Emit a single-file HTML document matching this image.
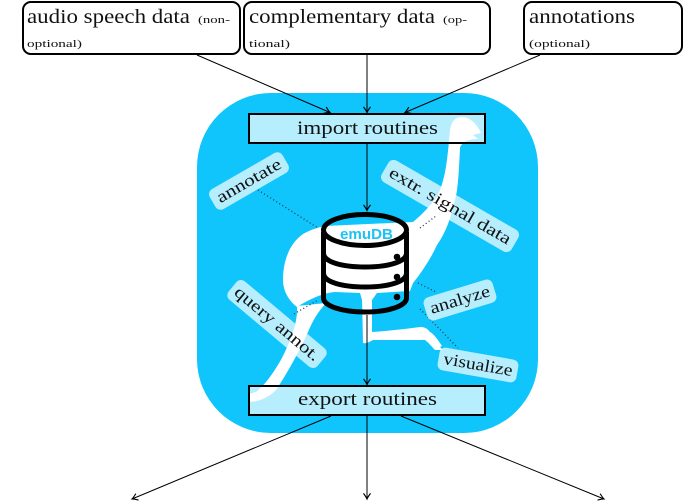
<!DOCTYPE html>
<html>
<head>
<meta charset="utf-8">
<style>
  html, body { margin: 0; padding: 0; background: #ffffff; }
  svg { display: block; }
  text { font-family: "Liberation Serif", "DejaVu Serif", serif; fill: #111; }
</style>
</head>
<body>
<svg width="684" height="501" viewBox="0 0 684 501" xmlns="http://www.w3.org/2000/svg">
  <defs>
    <marker id="ah" markerWidth="10" markerHeight="10" refX="0" refY="0" viewBox="-6 -4 8 8" orient="auto" markerUnits="userSpaceOnUse">
      <path d="M-4.5,-2.8 Q-1.5,-0.6 0,0 Q-1.5,0.6 -4.5,2.8" fill="none" stroke="#000" stroke-width="0.9"/>
    </marker>
  </defs>

  <rect width="684" height="501" fill="#ffffff"/>

  <!-- blue rounded background -->
  <rect x="197" y="93" width="341" height="340" rx="74" ry="74" fill="#0fc5fc"/>

  <!-- emu silhouette -->
  <g fill="#ffffff">
    <!-- head, neck and body -->
    <path d="M462,117 C470,117 477,124 481,133 L473,135 L478,139 C470,139 462,141 460,148
             C459,170 458,190 455,200 C451,218 446,232 437,245 C431,258 422,272 413,283
             L410,291 L377,293 L372,300 L362,300 L360,293 L335,292
             C322,293 308,300 297,307 C288,300 283,290 283,280 C283,260 290,243 303,234
             C312,229 320,227 325,226 L413,222
             C425,212 436,200 440,190 C447,172 448,150 450,130 C451,122 455,117 462,117 Z"/>
    <!-- left leg -->
    <path d="M297,306 C298,322 291,340 282,358 C274,372 266,384 256,392 L249,394 L248,402
             C258,402 268,398 276,390 C288,372 300,350 308,332 C313,320 318,312 326,303 Z"/>
    <!-- right leg -->
    <path d="M362,298 L363,343 C367,344 371,341 373,340 C390,340 410,340 425,340
             C429,343 432,347 435,350 L443,350 L440,347 L442,346
             C438,340 434,334 430,332 C427,328 424,327 420,327
             C405,329 388,331 372,332 L372,298 Z"/>
  </g>

  <!-- dotted connectors -->
  <g stroke="#1a3a4a" stroke-width="1.3" stroke-dasharray="1 2.6" fill="none">
    <line x1="258" y1="190" x2="318" y2="228"/>
    <line x1="420" y1="228" x2="436" y2="216"/>
    <line x1="294" y1="314" x2="318" y2="300"/>
    <line x1="418" y1="283" x2="436" y2="292"/>
    <line x1="420" y1="309" x2="458" y2="348"/>
  </g>

  <!-- database icon -->
  <g fill="none" stroke="#000" stroke-width="5" stroke-linejoin="round">
    <ellipse cx="365" cy="230" rx="41.5" ry="15.5"/>
    <path d="M323.5,232 L323.5,298 C323.5,306 342,312 365,312 C388,312 406.5,306 406.5,298 L406.5,232"/>
    <path d="M323.5,253 C323.5,262 342,267 365,267 C388,267 406.5,262 406.5,253"/>
    <path d="M323.5,273 C323.5,282 342,287 365,287 C388,287 406.5,282 406.5,273"/>
  </g>
  <g fill="#000">
    <circle cx="397" cy="257" r="3.3"/>
    <circle cx="397" cy="277" r="3.3"/>
    <circle cx="397" cy="297" r="3.3"/>
  </g>
  <text x="340" y="239" font-family="Liberation Sans, DejaVu Sans, sans-serif" font-weight="bold" font-size="15" textLength="53" lengthAdjust="spacingAndGlyphs" style="fill:#1cc3f4;font-family:'Liberation Sans','DejaVu Sans',sans-serif;">emuDB</text>

  <!-- rotated labels -->
  <g transform="translate(249,181) rotate(-30)">
    <rect x="-42" y="-11.5" width="84" height="23" rx="6" fill="rgba(255,255,255,0.7)"/>
    <text x="0" y="5" text-anchor="middle" font-size="17" textLength="72" lengthAdjust="spacingAndGlyphs">annotate</text>
  </g>
  <g transform="translate(450,206) rotate(30)">
    <rect x="-75" y="-12.5" width="150" height="25" rx="6" fill="rgba(255,255,255,0.7)"/>
    <text x="0" y="5" text-anchor="middle" font-size="17" textLength="138" lengthAdjust="spacingAndGlyphs">extr. signal data</text>
  </g>
  <g transform="translate(277,324) rotate(40)">
    <rect x="-58" y="-12" width="116" height="24" rx="6" fill="rgba(255,255,255,0.7)"/>
    <text x="0" y="5" text-anchor="middle" font-size="17" textLength="106" lengthAdjust="spacingAndGlyphs">query annot.</text>
  </g>
  <g transform="translate(460,300) rotate(-17)">
    <rect x="-36" y="-12" width="72" height="24" rx="6" fill="rgba(255,255,255,0.7)"/>
    <text x="0" y="5" text-anchor="middle" font-size="17" textLength="62" lengthAdjust="spacingAndGlyphs">analyze</text>
  </g>
  <g transform="translate(478,365) rotate(10)">
    <rect x="-40" y="-11.5" width="80" height="23" rx="6" fill="rgba(255,255,255,0.7)"/>
    <text x="0" y="5" text-anchor="middle" font-size="17" textLength="70" lengthAdjust="spacingAndGlyphs">visualize</text>
  </g>

  <!-- import / export boxes -->
  <rect x="249" y="114" width="236" height="29" fill="rgba(255,255,255,0.7)" stroke="#000" stroke-width="2"/>
  <text x="297" y="134" font-size="19" textLength="141" lengthAdjust="spacingAndGlyphs">import routines</text>
  <rect x="249" y="386" width="236" height="29" fill="rgba(255,255,255,0.7)" stroke="#000" stroke-width="2"/>
  <text x="298" y="405" font-size="19" textLength="139" lengthAdjust="spacingAndGlyphs">export routines</text>

  <!-- top boxes -->
  <rect x="23" y="2" width="217" height="52" rx="8" fill="#fff" stroke="#000" stroke-width="2"/>
  <text x="27" y="23" font-size="20" textLength="163" lengthAdjust="spacingAndGlyphs">audio speech data</text>
  <text x="198" y="23" font-size="10" textLength="32" lengthAdjust="spacingAndGlyphs">(non-</text>
  <text x="27" y="47" font-size="10" textLength="55" lengthAdjust="spacingAndGlyphs">optional)</text>

  <rect x="244" y="2" width="246" height="52" rx="8" fill="#fff" stroke="#000" stroke-width="2"/>
  <text x="249" y="23" font-size="20" textLength="186" lengthAdjust="spacingAndGlyphs">complementary data</text>
  <text x="443" y="23" font-size="10" textLength="24" lengthAdjust="spacingAndGlyphs">(op-</text>
  <text x="249" y="47" font-size="10" textLength="41" lengthAdjust="spacingAndGlyphs">tional)</text>

  <rect x="524" y="2" width="158" height="52" rx="8" fill="#fff" stroke="#000" stroke-width="2"/>
  <text x="529" y="23" font-size="20" textLength="106" lengthAdjust="spacingAndGlyphs">annotations</text>
  <text x="529" y="47" font-size="10" textLength="61" lengthAdjust="spacingAndGlyphs">(optional)</text>

  <!-- arrows -->
  <g stroke="#000" stroke-width="1" fill="none">
    <line x1="197" y1="55" x2="330" y2="112.5" marker-end="url(#ah)"/>
    <line x1="367" y1="55" x2="367" y2="112.5" marker-end="url(#ah)"/>
    <line x1="540" y1="55" x2="405" y2="112.5" marker-end="url(#ah)"/>
    <line x1="367" y1="144" x2="367" y2="210.5" marker-end="url(#ah)"/>
    <line x1="367" y1="315" x2="367" y2="384.5" marker-end="url(#ah)"/>
    <line x1="331" y1="416" x2="132" y2="499" marker-end="url(#ah)"/>
    <line x1="367" y1="416" x2="367" y2="499" marker-end="url(#ah)"/>
    <line x1="401" y1="416" x2="604" y2="499" marker-end="url(#ah)"/>
  </g>
</svg>
</body>
</html>
